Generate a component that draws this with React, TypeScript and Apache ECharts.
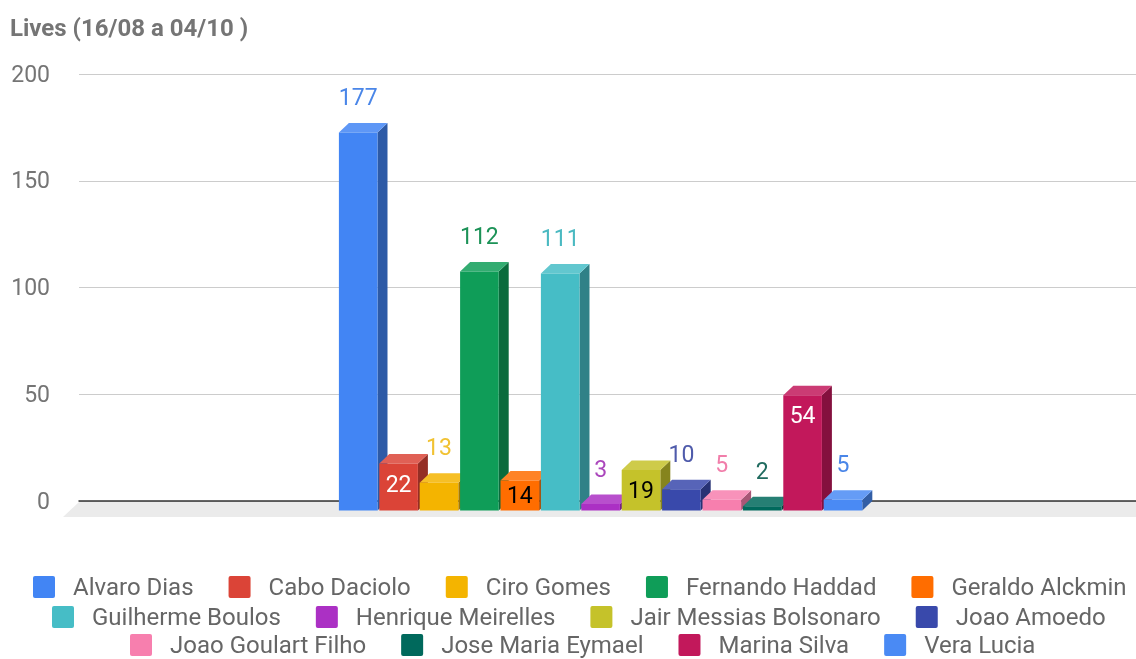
import React, { useEffect, useRef } from "react";
import * as echarts from "echarts";

const TITLE = "Lives (16/08 a 04/10 )";
const CANDIDATES = [
  "Alvaro Dias",
  "Cabo Daciolo",
  "Ciro Gomes",
  "Fernando Haddad",
  "Geraldo Alckmin",
  "Guilherme Boulos",
  "Henrique Meirelles",
  "Jair Messias Bolsonaro",
  "Joao Amoedo",
  "Joao Goulart Filho",
  "Jose Maria Eymael",
  "Marina Silva",
  "Vera Lucia",
];
const LIVES = [177, 22, 13, 112, 14, 111, 3, 19, 10, 5, 2, 54, 5];
const Y_TICKS = [0, 50, 100, 150, 200];
const LEGEND_ROWS = [
  ["Alvaro Dias", "Cabo Daciolo", "Ciro Gomes", "Fernando Haddad", "Geraldo Alckmin"],
  ["Guilherme Boulos", "Henrique Meirelles", "Jair Messias Bolsonaro", "Joao Amoedo"],
  ["Joao Goulart Filho", "Jose Maria Eymael", "Marina Silva", "Vera Lucia"],
];

// styling
const COLORS = [
  "#4285f4", "#db4437", "#f4b400", "#0f9d58", "#ff6d00", "#46bdc6", "#ab30c4",
  "#c5c22a", "#3949ab", "#f77fae", "#00695c", "#c2185b", "#4a8af4",
];
const LABEL_COLORS = [
  "#4a86e8", "#ffffff", "#f1c232", "#1c9257", "#000000", "#4ab9c1", "#ab47bc",
  "#000000", "#4f5bab", "#f17eaa", "#206b5f", "#ffffff", "#4a86e8",
];
const LABEL_INSIDE = [false, true, false, false, true, false, false, true, false, false, false, true, false];

const PITCH = 40.4;
const BAR_W = 38.6;
const DX = 10;
const DY = 9.5;
const CENTER_SHIFT = 4;
const FONT = "Roboto";
const ICON = "path://M2,0 H20 A2,2 0 0 1 22,2 V20 A2,2 0 0 1 20,22 H2 A2,2 0 0 1 0,20 V2 A2,2 0 0 1 2,0 Z";

function shade(hex: string, f: number): string {
  const n = parseInt(hex.slice(1), 16);
  let r = (n >> 16) & 255, g = (n >> 8) & 255, b = n & 255;
  if (f < 1) {
    r = Math.round(r * f); g = Math.round(g * f); b = Math.round(b * f);
  } else {
    const t = f - 1;
    r = Math.round(r + (255 - r) * t); g = Math.round(g + (255 - g) * t); b = Math.round(b + (255 - b) * t);
  }
  return "rgb(" + r + "," + g + "," + b + ")";
}

export default function App() {
  const ref = useRef<HTMLDivElement>(null);
  useEffect(() => {
    document.body.style.margin = "0";
    const chart = echarts.init(ref.current!, null, { renderer: "svg" });
    const N = CANDIDATES.length;
    const series = CANDIDATES.map((name, s) => ({
      type: "custom",
      name,
      itemStyle: { color: COLORS[s] },
      data: [[0, LIVES[s]]],
      encode: { x: 0, y: 1 },
      z: 3,
      renderItem: (params: any, api: any) => {
        const v = api.value(1);
        const base = api.coord([0, 0]);
        const top = api.coord([0, v]);
        const cx = base[0] + CENTER_SHIFT;
        const backLeft = cx - (N * PITCH) / 2 + s * PITCH;
        const x0 = backLeft - DX;
        const yb = base[1] + DY;
        const yt = top[1] + DY;
        const c = COLORS[s];
        const h = yb - yt;
        const inside = LABEL_INSIDE[s];
        const ly = inside ? Math.min(yt + 20.5, yt + h / 2) : yt - 35;
        return {
          type: "group",
          children: [
            {
              type: "polygon",
              shape: { points: [[x0 + BAR_W, yt], [x0 + BAR_W + DX, yt - DY], [x0 + BAR_W + DX, yb - DY], [x0 + BAR_W, yb]] },
              style: { fill: shade(c, 0.68) },
            },
            {
              type: "polygon",
              shape: { points: [[x0, yt], [x0 + BAR_W, yt], [x0 + BAR_W + DX, yt - DY], [x0 + DX, yt - DY]] },
              style: { fill: shade(c, 1.15) },
            },
            {
              type: "rect",
              shape: { x: x0, y: yt, width: BAR_W, height: h },
              style: { fill: c },
            },
            {
              type: "text",
              x: x0 + BAR_W / 2,
              y: ly,
              style: {
                text: String(v),
                fill: LABEL_COLORS[s],
                fontSize: 23,
                fontFamily: FONT,
                align: "center",
                verticalAlign: "middle",
              },
            },
          ],
        };
      },
    }));

    const legendTops = [575, 605, 633];
    const legendLefts = [33, 52, 130];
    const option: any = {
      animation: false,
      textStyle: { fontFamily: FONT },
      title: {
        text: TITLE,
        left: 10,
        top: 16,
        padding: 0,
        textStyle: { fontSize: 24, fontWeight: "bold", color: "#757575", fontFamily: FONT },
      },
      grid: { left: 79, right: 0, top: 74, bottom: 158, containLabel: false },
      xAxis: {
        type: "category",
        data: [""],
        axisLine: { show: true, lineStyle: { color: "#333333", width: 1.5 } },
        axisTick: { show: false },
        axisLabel: { show: false },
        splitLine: { show: false },
      },
      yAxis: {
        type: "value",
        min: Y_TICKS[0],
        max: Y_TICKS[Y_TICKS.length - 1],
        interval: 50,
        axisLine: { show: false },
        axisTick: { show: false },
        axisLabel: { fontSize: 23, color: "#757575", margin: 29, fontFamily: FONT },
        splitLine: { lineStyle: { color: "#cccccc", width: 1 } },
      },
      legend: LEGEND_ROWS.map((row, i) => ({
        data: row.map((name) => ({ name, itemStyle: { color: COLORS[CANDIDATES.indexOf(name)] } })),
        left: legendLefts[i],
        top: legendTops[i],
        padding: 0,
        orient: "horizontal",
        icon: ICON,
        itemWidth: 22,
        itemHeight: 22,
        itemGap: 35,
        selectedMode: false,
        textStyle: { fontSize: 24, lineHeight: 22, color: "#666666", fontFamily: FONT, padding: [0, 0, 0, 13] },
      })),
      graphic: [
        {
          type: "polygon",
          z: 0,
          shape: { points: [[79, 502], [1136, 502], [1136, 517], [63, 517]] },
          style: { fill: "#ebebeb" },
        },
      ],
      series,
    };
    chart.setOption(option);
    return () => chart.dispose();
  }, []);
  return <div ref={ref} style={{ position: "fixed", left: 0, top: 0, width: 1136, height: 659 }} />;
}
